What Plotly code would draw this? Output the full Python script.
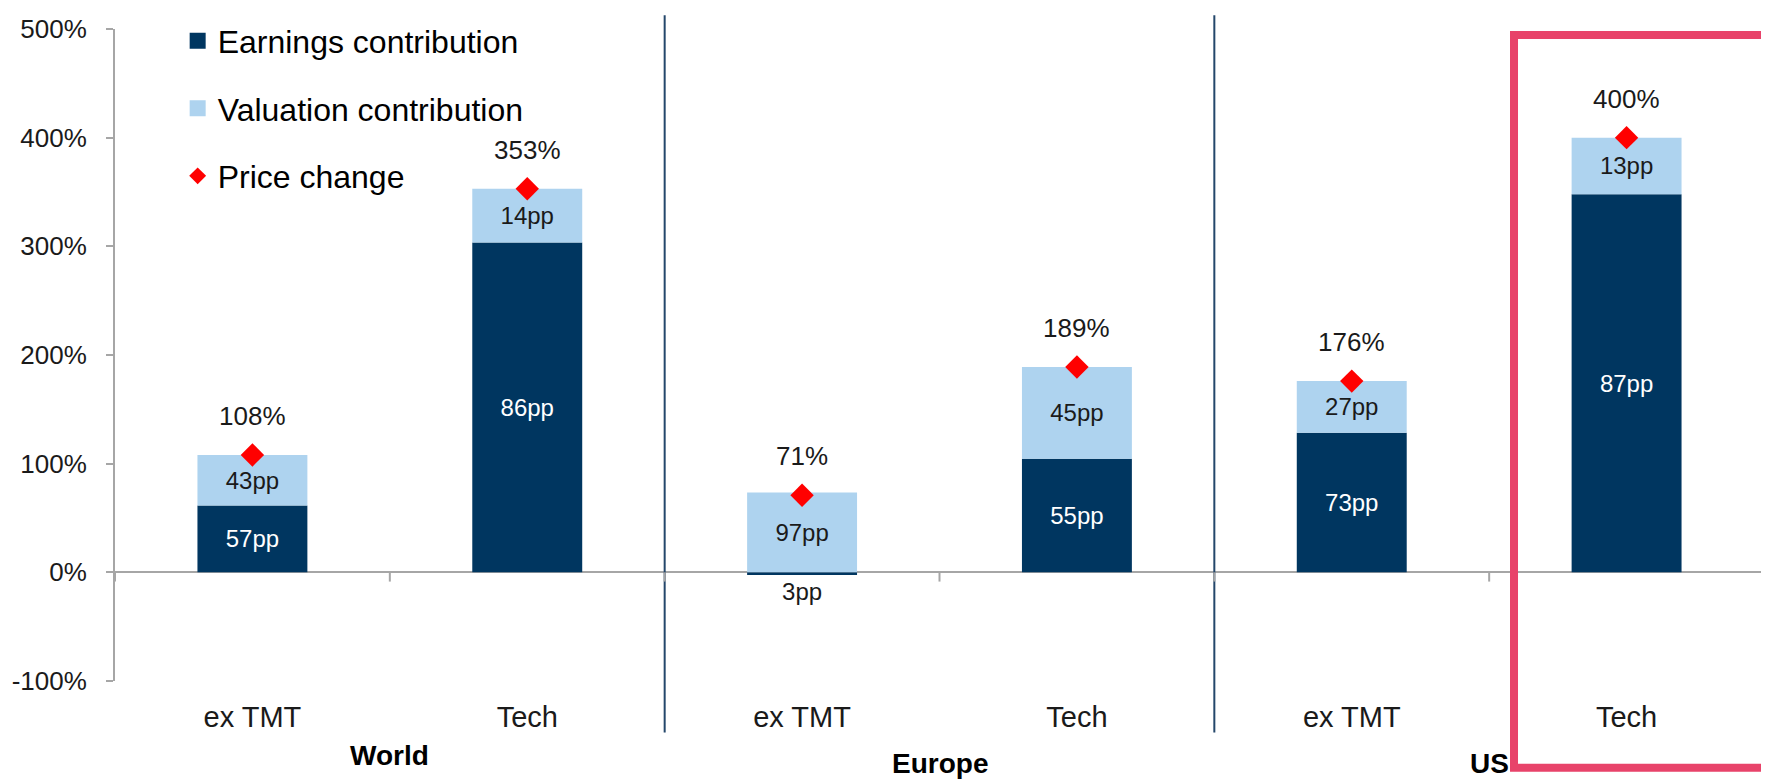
import plotly.graph_objects as go

# ---------------- data ----------------
regions = ["World", "World", "Europe", "Europe", "US", "US"]
sectors = ["ex TMT", "Tech", "ex TMT", "Tech", "ex TMT", "Tech"]
price_change = [108, 353, 71, 189, 176, 400]
earnings_contrib = [61.6, 303.6, -2.5, 104.5, 128.5, 348.0]
valuation_contrib = [46.4, 49.4, 73.5, 84.5, 47.5, 52.0]
earnings_labels = ["57pp", "86pp", "3pp", "55pp", "73pp", "87pp"]
valuation_labels = ["43pp", "14pp", "97pp", "45pp", "27pp", "13pp"]
group_names = ["World", "Europe", "US"]
y_ticks = [-100, 0, 100, 200, 300, 400, 500]
y_tick_text = [f"{v}%" for v in y_ticks]

# ---------------- style ----------------
FONT = "Liberation Sans, Arial, sans-serif"
DARK = "#003660"
LIGHT = "#AED3EF"
RED = "#FF0000"
BOX = "#E8436A"
SEP = "#24476B"
GRID = "#A6A6A6"
TXT = "#1a1a1a"

xpos = list(range(len(sectors)))

fig = go.Figure()

earn_pos = ["inside" if v >= 0 else "outside" for v in earnings_contrib]
earn_col = ["white" if v >= 0 else TXT for v in earnings_contrib]

fig.add_trace(go.Bar(
    x=xpos, y=earnings_contrib, name="Earnings contribution",
    marker=dict(color=DARK, line=dict(width=0)), width=0.4,
    text=earnings_labels, textposition=earn_pos, insidetextanchor="middle",
    textangle=0, constraintext="none",
    textfont=dict(family=FONT, size=24, color=earn_col),
    showlegend=False, cliponaxis=False, hoverinfo="skip",
))
fig.add_trace(go.Bar(
    x=xpos, y=valuation_contrib, name="Valuation contribution",
    marker=dict(color=LIGHT, line=dict(width=0)), width=0.4,
    text=valuation_labels, textposition="inside", insidetextanchor="middle",
    textangle=0, constraintext="none",
    textfont=dict(family=FONT, size=24, color=TXT),
    showlegend=False, cliponaxis=False, hoverinfo="skip",
))
fig.add_trace(go.Scatter(
    x=xpos, y=price_change, mode="markers", name="Price change",
    marker=dict(symbol="diamond", size=18, color=RED, line=dict(width=0)),
    showlegend=False, cliponaxis=False, hoverinfo="skip",
))

# legend-only entries
fig.add_trace(go.Scatter(x=[None], y=[None], mode="markers", name="Earnings contribution",
                         marker=dict(symbol="square", size=16, color=DARK),
                         legendgroup="a", legendrank=1))
fig.add_trace(go.Scatter(x=[None], y=[None], mode="markers", name="Valuation contribution",
                         marker=dict(symbol="square", size=16, color=LIGHT),
                         legendgroup="b", legendrank=2))
fig.add_trace(go.Scatter(x=[None], y=[None], mode="markers", name="Price change",
                         marker=dict(symbol="diamond", size=13, color=RED),
                         legendgroup="c", legendrank=3))

annotations = []
for xi, p in zip(xpos, price_change):
    annotations.append(dict(x=xi, y=p, xref="x", yref="y", text=f"{p}%", showarrow=False,
                            yshift=39, font=dict(family=FONT, size=26, color=TXT)))

group_y = [-0.114, -0.127, -0.126]
for gi, g in enumerate(group_names):
    idx = [i for i, r in enumerate(regions) if r == g]
    cx = sum(idx) / len(idx)
    annotations.append(dict(x=cx, y=group_y[gi], xref="x", yref="paper", text=f"<b>{g}</b>",
                            showarrow=False, yanchor="middle",
                            font=dict(family=FONT, size=28, color="black")))

shapes = []
# separators between regions
for i in range(1, len(regions)):
    if regions[i] != regions[i - 1]:
        shapes.append(dict(type="line", xref="x", yref="paper", x0=i - 0.5, x1=i - 0.5,
                           y0=-0.079, y1=1.021, line=dict(color=SEP, width=2)))
# category boundary tick marks on zero line
for i in range(len(sectors) + 1):
    shapes.append(dict(type="line", xref="x", yref="y", x0=i - 0.5, x1=i - 0.5,
                       y0=0, y1=-8.5, line=dict(color=GRID, width=2)))
# highlight box
shapes.append(dict(type="rect", xref="paper", yref="paper", x0=0.8484, x1=1.06,
                   y0=-0.1329, y1=0.9909, line=dict(color=BOX, width=8),
                   fillcolor="rgba(0,0,0,0)"))

# page body has an 8px margin, so the figure is sized to fit the window from (8, 8)
fig.update_layout(
    width=1761, height=773,
    margin=dict(l=107, r=5, t=15, b=100),
    paper_bgcolor="white", plot_bgcolor="white",
    barmode="relative",
    font=dict(family=FONT, color=TXT),
    showlegend=True,
    legend=dict(x=0.038, y=1.024, xanchor="left", yanchor="top",
                font=dict(family=FONT, size=32, color="black"),
                bgcolor="rgba(0,0,0,0)", traceorder="grouped", tracegroupgap=23,
                itemclick=False, itemdoubleclick=False),
    annotations=annotations,
    shapes=shapes,
)
fig.update_xaxes(range=[-0.5, len(sectors) - 0.5], tickvals=xpos, ticktext=sectors,
                 showline=False, ticks="", showgrid=False, zeroline=False,
                 tickfont=dict(family=FONT, size=29, color=TXT), ticklabelstandoff=16)
fig.update_yaxes(range=[-100, 500], tickvals=y_ticks, ticktext=y_tick_text,
                 showline=True, linecolor=GRID, linewidth=2,
                 ticks="outside", ticklen=7, tickcolor=GRID, tickwidth=2,
                 showgrid=False, zeroline=True, zerolinecolor=GRID, zerolinewidth=2,
                 tickfont=dict(family=FONT, size=26, color=TXT), ticklabelstandoff=14)

fig.write_html("out.html")
